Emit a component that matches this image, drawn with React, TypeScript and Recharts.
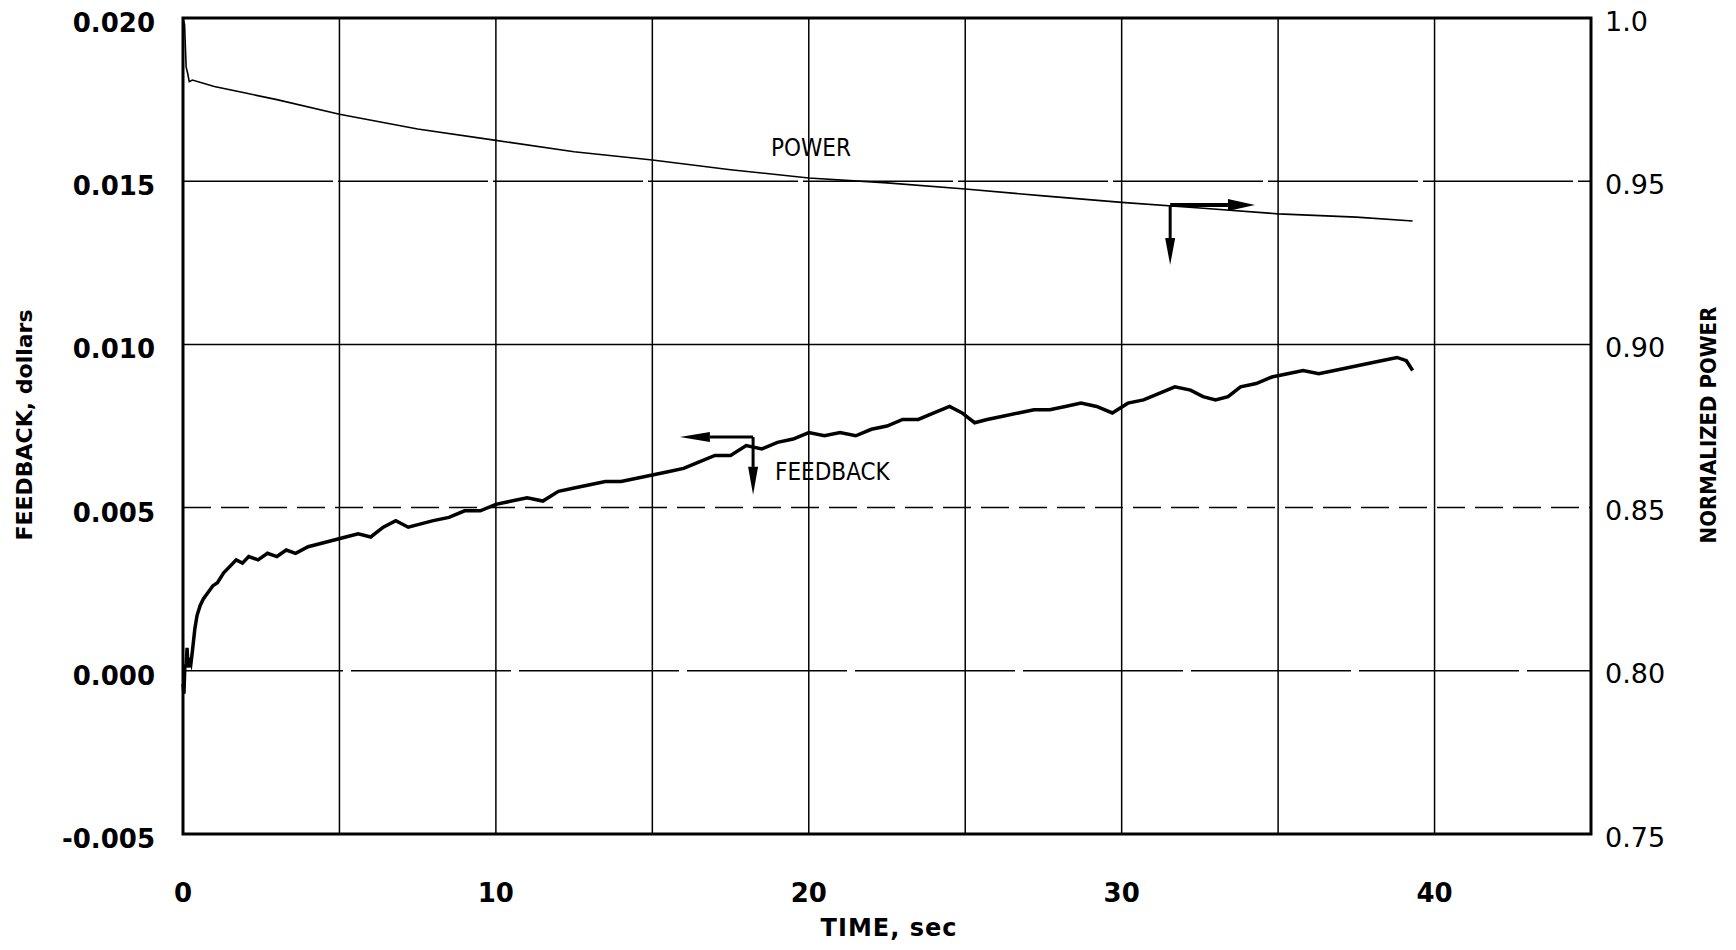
import React from 'react';
import { LineChart, Line, XAxis, YAxis, CartesianGrid, ReferenceLine, ReferenceArea, ReferenceDot } from 'recharts';

const TIME_TICKS = [0, 5, 10, 15, 20, 25, 30, 35, 40, 45];
const FEEDBACK_TICKS = [-0.005, 0, 0.005, 0.01, 0.015, 0.02];
const POWER_TICKS = [0.75, 0.8, 0.85, 0.9, 0.95, 1.0];

// normalized power (right axis)
const powerTime = [0, 0.05, 0.1, 0.15, 0.2, 0.3, 1, 2, 3, 5, 7.5, 10, 12.5, 15, 17.5, 20, 22.5, 25, 27.5, 30, 32.5, 35, 37.5, 39.3];
const powerValue = [1.0, 0.998, 0.985, 0.983, 0.9805, 0.981, 0.979, 0.977, 0.975, 0.9705, 0.966, 0.9625, 0.959, 0.9565, 0.9535, 0.951, 0.9495, 0.9476, 0.9455, 0.9435, 0.9418, 0.94, 0.939, 0.9378];

// feedback in dollars (left axis)
const feedbackTime = [
  0, 0.03, 0.06, 0.1, 0.13, 0.16, 0.2, 0.25, 0.3, 0.38, 0.45, 0.55, 0.65, 0.8, 0.95, 1.1, 1.3, 1.5, 1.7, 1.9,
  2.1, 2.4, 2.7, 3.0, 3.3, 3.6, 4.0, 4.4, 4.8, 5.2, 5.6, 6.0, 6.4, 6.8, 7.2, 7.6, 8.0, 8.5, 9.0, 9.5,
  10.0, 10.5, 11.0, 11.5, 12.0, 12.5, 13.0, 13.5, 14.0, 14.5, 15.0, 15.5, 16.0, 16.5, 17.0, 17.5, 18.0, 18.5, 19.0, 19.5,
  20.0, 20.5, 21.0, 21.5, 22.0, 22.5, 23.0, 23.5, 24.0, 24.5, 24.9, 25.3, 25.7, 26.2, 26.7, 27.2, 27.7, 28.2, 28.7, 29.2,
  29.7, 30.2, 30.7, 31.2, 31.7, 32.2, 32.6, 33.0, 33.4, 33.8, 34.3, 34.8, 35.3, 35.8, 36.3, 36.8, 37.3, 37.8, 38.3, 38.8,
  39.1, 39.3,
];
const feedbackValue = [
  -0.0004, -0.0007, 0.0002, 0.0001, 0.0007, 0.0001, 0.0003, 0.0002, 0.0006, 0.0013, 0.0017, 0.002, 0.0022, 0.0024, 0.0026, 0.0027, 0.003, 0.0032, 0.0034, 0.0033,
  0.0035, 0.0034, 0.0036, 0.0035, 0.0037, 0.0036, 0.0038, 0.0039, 0.004, 0.0041, 0.0042, 0.0041, 0.0044, 0.0046, 0.0044, 0.0045, 0.0046, 0.0047, 0.0049, 0.0049,
  0.0051, 0.0052, 0.0053, 0.0052, 0.0055, 0.0056, 0.0057, 0.0058, 0.0058, 0.0059, 0.006, 0.0061, 0.0062, 0.0064, 0.0066, 0.0066, 0.0069, 0.0068, 0.007, 0.0071,
  0.0073, 0.0072, 0.0073, 0.0072, 0.0074, 0.0075, 0.0077, 0.0077, 0.0079, 0.0081, 0.0079, 0.0076, 0.0077, 0.0078, 0.0079, 0.008, 0.008, 0.0081, 0.0082, 0.0081,
  0.0079, 0.0082, 0.0083, 0.0085, 0.0087, 0.0086, 0.0084, 0.0083, 0.0084, 0.0087, 0.0088, 0.009, 0.0091, 0.0092, 0.0091, 0.0092, 0.0093, 0.0094, 0.0095, 0.0096,
  0.0095, 0.0092,
];

const powerData = powerTime.map((t, i) => ({ t, v: powerValue[i] }));
const feedbackData = feedbackTime.map((t, i) => ({ t, v: feedbackValue[i] }));

const FONT = '"DejaVu Sans", sans-serif';
const COND = '"DejaVu Sans Condensed", "DejaVu Sans", sans-serif';

function LeftTick({ x, y, payload }: any) {
  return (
    <text x={x} y={y + 5} textAnchor="end" dominantBaseline="central" fontFamily={FONT} fontWeight="bold" fontSize={26} fill="#000">
      {payload.value.toFixed(3)}
    </text>
  );
}

function RightTick({ x, y, payload }: any) {
  const v = payload.value;
  return (
    <text x={x} y={y + 3} textAnchor="start" dominantBaseline="central" fontFamily={FONT} fontSize={27} fill="#000">
      {v === 1 ? '1.0' : v.toFixed(2)}
    </text>
  );
}

function TimeTick({ x, y, payload }: any) {
  const v = payload.value;
  if (v % 10 !== 0 || v > 40) return null;
  return (
    <text x={x} y={y + 59} textAnchor="middle" dominantBaseline="central" fontFamily={FONT} fontWeight="bold" fontSize={26} fill="#000">
      {v}
    </text>
  );
}

function arrow(head: number, half: number, width: number) {
  return (p: any) => {
    const { x1, y1, x2, y2 } = p;
    const dx = x2 - x1;
    const dy = y2 - y1;
    const len = Math.hypot(dx, dy) || 1;
    const ux = dx / len;
    const uy = dy / len;
    const bx = x2 - ux * head;
    const by = y2 - uy * head;
    const px = -uy * half;
    const py = ux * half;
    return (
      <g>
        <line x1={x1} y1={y1} x2={bx} y2={by} stroke="#000" strokeWidth={width} />
        <polygon points={`${x2},${y2} ${bx + px},${by + py} ${bx - px},${by - py}`} fill="#000" />
      </g>
    );
  };
}

function label(text: string, anchor: 'start' | 'middle') {
  return (p: any) => (
    <text x={p.cx} y={p.cy} textAnchor={anchor} dominantBaseline="central" fontFamily={COND} fontSize={24} fill="#000">
      {text}
    </text>
  );
}

export default function App() {
  return (
    <div style={{ width: 1736, height: 950, background: '#fff', position: 'relative' }}>
      <style>{'body{margin:0}'}</style>
      <LineChart width={1736} height={950} margin={{ top: 18, right: 0, bottom: 0, left: 0 }}>
        <CartesianGrid horizontal={false} stroke="#000" strokeWidth={1.5} />
        <XAxis
          dataKey="t"
          type="number"
          domain={[0, 45]}
          ticks={TIME_TICKS}
          height={116}
          axisLine={false}
          tickLine={false}
          tickSize={0}
          tickMargin={0}
          tick={<TimeTick />}
          interval={0}
          allowDuplicatedCategory={false}
        />
        <YAxis
          yAxisId="left"
          type="number"
          domain={[-0.005, 0.02]}
          ticks={FEEDBACK_TICKS}
          width={183}
          axisLine={false}
          tickLine={false}
          tickSize={0}
          tickMargin={28}
          tick={<LeftTick />}
          interval={0}
        />
        <YAxis
          yAxisId="right"
          orientation="right"
          type="number"
          domain={[0.75, 1.0]}
          ticks={POWER_TICKS}
          width={145}
          axisLine={false}
          tickLine={false}
          tickSize={0}
          tickMargin={14}
          tick={<RightTick />}
          interval={0}
        />
        <ReferenceLine yAxisId="left" y={0.015} stroke="#000" strokeWidth={1.5} strokeDasharray="150 5" />
        <ReferenceLine yAxisId="left" y={0.01} stroke="#000" strokeWidth={1.5} />
        <ReferenceLine yAxisId="left" y={0.005} stroke="#000" strokeWidth={1.5} strokeDasharray="28 10" />
        <ReferenceLine yAxisId="left" y={0} stroke="#000" strokeWidth={1.5} strokeDasharray="160 8" />
        <ReferenceArea yAxisId="left" x1={0} x2={45} y1={-0.005} y2={0.02} fill="none" stroke="#000" strokeWidth={3} />

        <Line yAxisId="right" data={powerData} dataKey="v" type="linear" stroke="#000" strokeWidth={1.6} dot={false} isAnimationActive={false} />
        <Line yAxisId="left" data={feedbackData} dataKey="v" type="linear" stroke="#000" strokeWidth={3.5} dot={false} isAnimationActive={false} />

        <ReferenceLine yAxisId="left" segment={[{ x: 31.55, y: 0.01427 }, { x: 34.26, y: 0.01427 }]} shape={arrow(27, 6, 4)} />
        <ReferenceLine yAxisId="left" segment={[{ x: 31.55, y: 0.01427 }, { x: 31.55, y: 0.01243 }]} shape={arrow(27, 5, 3)} />
        <ReferenceLine yAxisId="left" segment={[{ x: 18.22, y: 0.00716 }, { x: 15.88, y: 0.00716 }]} shape={arrow(30, 5, 3)} />
        <ReferenceLine yAxisId="left" segment={[{ x: 18.22, y: 0.00716 }, { x: 18.22, y: 0.00539 }]} shape={arrow(28, 5, 3)} />

        <ReferenceDot yAxisId="left" x={20.07} y={0.01602} r={1} shape={label('POWER', 'middle')} />
        <ReferenceDot yAxisId="left" x={18.92} y={0.00609} r={1} shape={label('FEEDBACK', 'start')} />
      </LineChart>

      <div style={{ position: 'absolute', left: 24, top: 425, transform: 'translate(-50%, -50%) rotate(-90deg)', whiteSpace: 'nowrap', fontFamily: FONT, fontWeight: 'bold', fontSize: 22, color: '#000' }}>
        FEEDBACK, dollars
      </div>
      <div style={{ position: 'absolute', left: 1708, top: 425, transform: 'translate(-50%, -50%) rotate(-90deg)', whiteSpace: 'nowrap', fontFamily: COND, fontWeight: 'bold', fontSize: 22, color: '#000' }}>
        NORMALIZED POWER
      </div>
      <div style={{ position: 'absolute', left: 889, top: 928, transform: 'translate(-50%, -50%)', whiteSpace: 'nowrap', fontFamily: FONT, fontWeight: 'bold', fontSize: 24, letterSpacing: 1, color: '#000' }}>
        TIME, sec
      </div>
    </div>
  );
}
